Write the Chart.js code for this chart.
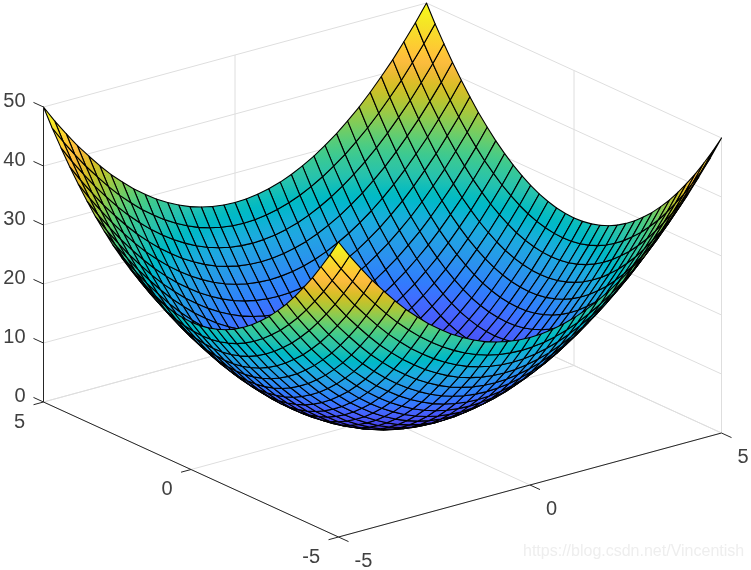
<!DOCTYPE html>
<html><head><meta charset="utf-8">
<style>html,body{margin:0;padding:0;background:#fff}canvas{display:block}</style>
<script src="https://cdn.jsdelivr.net/npm/chart.js@4"></script>
</head><body><canvas id="c" width="751" height="570"></canvas>
<script>
// Grid coordinates read from the surface (35 lines per axis)
const xValues = [-5,-4.71,-4.41,-4.12,-3.82,-3.53,-3.24,-2.94,-2.65,-2.35,-2.06,-1.76,-1.47,-1.18,-0.88,-0.59,-0.29,0,0.29,0.59,0.88,1.18,1.47,1.76,2.06,2.35,2.65,2.94,3.24,3.53,3.82,4.12,4.41,4.71,5];
const yValues = [-5,-4.71,-4.41,-4.12,-3.82,-3.53,-3.24,-2.94,-2.65,-2.35,-2.06,-1.76,-1.47,-1.18,-0.88,-0.59,-0.29,0,0.29,0.59,0.88,1.18,1.47,1.76,2.06,2.35,2.65,2.94,3.24,3.53,3.82,4.12,4.41,4.71,5];
// Surface heights for one quadrant, centre outwards; the bowl is mirrored about x=0 and y=0
const zQuadrant = [
[0,.09,.35,.78,1.38,2.16,3.11,4.24,5.54,7.01,8.65,10.47,12.46,14.62,16.96,19.46,22.15,25],
[.09,.18,.44,.87,1.47,2.25,3.2,4.33,5.63,7.1,8.74,10.56,12.55,14.71,17.05,19.55,22.24,25.09],
[.35,.44,.7,1.13,1.73,2.51,3.46,4.59,5.89,7.36,9,10.82,12.81,14.97,17.31,19.81,22.5,25.35],
[.78,.87,1.13,1.56,2.16,2.94,3.89,5.02,6.32,7.79,9.43,11.25,13.24,15.4,17.74,20.24,22.93,25.78],
[1.38,1.47,1.73,2.16,2.76,3.54,4.49,5.62,6.92,8.39,10.03,11.85,13.84,16,18.34,20.84,23.53,26.38],
[2.16,2.25,2.51,2.94,3.54,4.32,5.27,6.4,7.7,9.17,10.81,12.63,14.62,16.78,19.12,21.62,24.31,27.16],
[3.11,3.2,3.46,3.89,4.49,5.27,6.22,7.35,8.65,10.12,11.76,13.58,15.57,17.73,20.07,22.57,25.26,28.11],
[4.24,4.33,4.59,5.02,5.62,6.4,7.35,8.48,9.78,11.25,12.89,14.71,16.7,18.86,21.2,23.7,26.39,29.24],
[5.54,5.63,5.89,6.32,6.92,7.7,8.65,9.78,11.08,12.55,14.19,16.01,18,20.16,22.5,25,27.69,30.54],
[7.01,7.1,7.36,7.79,8.39,9.17,10.12,11.25,12.55,14.02,15.66,17.48,19.47,21.63,23.97,26.47,29.16,32.01],
[8.65,8.74,9,9.43,10.03,10.81,11.76,12.89,14.19,15.66,17.3,19.12,21.11,23.27,25.61,28.11,30.8,33.65],
[10.47,10.56,10.82,11.25,11.85,12.63,13.58,14.71,16.01,17.48,19.12,20.94,22.93,25.09,27.43,29.93,32.62,35.47],
[12.46,12.55,12.81,13.24,13.84,14.62,15.57,16.7,18,19.47,21.11,22.93,24.92,27.08,29.42,31.92,34.61,37.46],
[14.62,14.71,14.97,15.4,16,16.78,17.73,18.86,20.16,21.63,23.27,25.09,27.08,29.24,31.58,34.08,36.77,39.62],
[16.96,17.05,17.31,17.74,18.34,19.12,20.07,21.2,22.5,23.97,25.61,27.43,29.42,31.58,33.92,36.42,39.11,41.96],
[19.46,19.55,19.81,20.24,20.84,21.62,22.57,23.7,25,26.47,28.11,29.93,31.92,34.08,36.42,38.92,41.61,44.46],
[22.15,22.24,22.5,22.93,23.53,24.31,25.26,26.39,27.69,29.16,30.8,32.62,34.61,36.77,39.11,41.61,44.3,47.15],
[25,25.09,25.35,25.78,26.38,27.16,28.11,29.24,30.54,32.01,33.65,35.47,37.46,39.62,41.96,44.46,47.15,50]
];
const xTicks = [-5,0,5];
const yTicks = [-5,0,5];
const zTicks = [0,10,20,30,40,50];
const xTickLabels = ['-5','0','5'];
const yTickLabels = ['-5','0','5'];
const zTickLabels = ['0','10','20','30','40','50'];
const watermark = 'https://blog.csdn.net/Vincentish';
const colormap = [[.2422,.1504,.6603],[.2504,.165,.7076],[.2578,.1818,.7511],[.2647,.1978,.7952],[.2706,.2147,.8364],[.2751,.2342,.871],[.2783,.2559,.8991],[.2803,.2782,.9221],[.2813,.3006,.9414],[.281,.3228,.9579],[.2795,.3447,.9717],[.276,.3667,.9829],[.2699,.3892,.9906],[.2602,.4123,.9952],[.244,.4358,.9988],[.2206,.4603,.9973],[.1963,.4847,.9892],[.1834,.5074,.9798],[.1786,.5289,.9682],[.1764,.5499,.952],[.1687,.5703,.9359],[.154,.5902,.9218],[.146,.6091,.9079],[.138,.6276,.8973],[.1248,.6459,.8883],[.1113,.6635,.8763],[.0952,.6798,.8598],[.0689,.6948,.8394],[.0297,.7082,.8163],[.0036,.7203,.7917],[.0067,.7312,.766],[.0433,.7411,.7394],[.0964,.75,.712],[.1408,.7584,.6842],[.1717,.767,.6554],[.1938,.7758,.6251],[.2161,.7843,.5923],[.247,.7918,.5567],[.2906,.7973,.5188],[.3406,.8008,.4789],[.3909,.8029,.4354],[.4456,.8024,.3909],[.5044,.7993,.348],[.5616,.7942,.3045],[.6174,.7876,.2612],[.672,.7793,.2227],[.7242,.7698,.191],[.7738,.7598,.1646],[.8203,.7498,.1535],[.8634,.7406,.1596],[.9035,.733,.1774],[.9393,.7288,.21],[.9728,.7298,.2394],[.9956,.7434,.2371],[.997,.7659,.2199],[.9952,.7861,.1967],[.9892,.8136,.1885],[.9786,.8386,.1766],[.9676,.8639,.1643],[.961,.889,.1537],[.9597,.9135,.1423],[.9628,.9373,.1265],[.9691,.9606,.1064],[.9769,.9839,.0805]];

const EDGE = '#000000', GRID = '#dedede', AXIS = '#262626';
const zMax = 50;
// Orthographic view of the axes box, az -37.5 el 30, fitted to the reference
function project(x, y, z) {
  return { x: 338.5 + (x + 5) * 38.3 - (y + 5) * 29.5,
           y: 537 - (x + 5) * 10.4 - (y + 5) * 13.5 - z * 5.9 };
}
const zAt = (i, j) => zQuadrant[Math.abs(i - 17)][Math.abs(j - 17)];
function colorOf(t) {
  t = Math.min(1, Math.max(0, t)) * (colormap.length - 1);
  const a = Math.floor(t), b = Math.min(colormap.length - 1, a + 1), f = t - a;
  const c = colormap[a].map((v, k) => Math.round((v + (colormap[b][k] - v) * f) * 255));
  return `rgb(${c[0]},${c[1]},${c[2]})`;
}
const cv = document.getElementById('c');
function quadFill(ctx2d, P, T) {
  const e1x = (P[1].x + P[2].x - P[0].x - P[3].x) / 2, e1y = (P[1].y + P[2].y - P[0].y - P[3].y) / 2;
  const e2x = (P[2].x + P[3].x - P[0].x - P[1].x) / 2, e2y = (P[2].y + P[3].y - P[0].y - P[1].y) / 2;
  const d1 = (T[1] + T[2] - T[0] - T[3]) / 2, d2 = (T[2] + T[3] - T[0] - T[1]) / 2;
  const det = e1x * e2y - e1y * e2x;
  const tMin = Math.min(...T), tMax = Math.max(...T), tc = (T[0] + T[1] + T[2] + T[3]) / 4;
  if (Math.abs(det) < 1e-3) return colorOf(tc);
  const gx = (d1 * e2y - d2 * e1y) / det, gy = (e1x * d2 - e2x * d1) / det;
  const g2 = gx * gx + gy * gy;
  if (g2 < 1e-10) return colorOf(tc);
  const cx = (P[0].x + P[1].x + P[2].x + P[3].x) / 4, cy = (P[0].y + P[1].y + P[2].y + P[3].y) / 4;
  const k0 = (tMin - tc) / g2, k1 = (tMax - tc) / g2;
  const gr = ctx2d.createLinearGradient(cx + gx * k0, cy + gy * k0, cx + gx * k1, cy + gy * k1);
  for (let s = 0; s <= 4; s++) gr.addColorStop(s / 4, colorOf(tMin + (tMax - tMin) * s / 4));
  return gr;
}
const ctx = cv.getContext('2d');
const quads = [];
for (let i = 0; i < xValues.length - 1; i++) for (let j = 0; j < yValues.length - 1; j++) {
  const idx = [[i, j], [i + 1, j], [i + 1, j + 1], [i, j + 1]];
  const V = idx.map(([a, b]) => [xValues[a], yValues[b], zAt(a, b)]);
  const depth = V.reduce((s, v) => s - 1.74 * v[0] - 2.26 * v[1] + 0.33 * v[2], 0);
  quads.push({ V, depth });
}
quads.sort((a, b) => b.depth - a.depth); // nearest first: Chart.js paints first dataset last
const datasets = [];
const line3d = (pts, color, width) => datasets.push({ data: pts.map(p => project(...p)), showLine: true, fill: false, borderColor: color, borderWidth: width, pointRadius: 0, tension: 0, clip: false });
// axes and ticks on top
line3d([[-5, 5, 0], [-5, 5, zMax]], AXIS, 1);
line3d([[-5, 5, 0], [-5, -5, 0]], AXIS, 1);
line3d([[-5, -5, 0], [5, -5, 0]], AXIS, 1);
const tickLen = 0.34;
zTicks.forEach(z => line3d([[-5, 5, z], [-5, 5 + tickLen, z]], AXIS, 1));
yTicks.forEach(y => line3d([[-5, y, 0], [-5 - 0.26, y, 0]], AXIS, 1));
xTicks.forEach(x => line3d([[x, -5, 0], [x, -5 - tickLen, 0]], AXIS, 1));
// surface
quads.forEach(q => {
  const P = q.V.map(v => project(...v));
  const T = q.V.map(v => v[2] / zMax);
  datasets.push({ data: [...P, P[0]], showLine: true, fill: 'shape', backgroundColor: quadFill(ctx, P, T), borderColor: EDGE, borderWidth: 1.1, borderJoinStyle: 'round', pointRadius: 0, tension: 0, clip: false });
});
// back walls and floor grid
zTicks.forEach(z => { line3d([[-5, 5, z], [5, 5, z], [5, -5, z]], GRID, 1); });
xTicks.forEach(x => { line3d([[x, -5, 0], [x, 5, 0], [x, 5, zMax]], GRID, 1); });
yTicks.forEach(y => { line3d([[-5, y, 0], [5, y, 0], [5, y, zMax]], GRID, 1); });

const labelPlugin = { id: 'labels', afterDraw(ch) {
  const c = ch.ctx, sx = ch.scales.x, sy = ch.scales.y;
  c.save();
  c.font = '20px "Liberation Sans", Arial, sans-serif';
  c.fillStyle = '#404040'; c.textBaseline = 'middle';
  const put = (p, dx, dy, s, al) => { c.textAlign = al; c.fillText(s, sx.getPixelForValue(p.x) + dx, sy.getPixelForValue(p.y) + dy + 1); };
  zTicks.forEach((z, k) => put(project(-5, 5, z), -18, -7, zTickLabels[k], 'right'));
  yTicks.forEach((y, k) => put(project(-5, y, 0), -18.5, 19, yTickLabels[k], 'right'));
  xTicks.forEach((x, k) => put(project(x, -5, 0), 16, 23, xTickLabels[k], 'left'));
  c.font = '16px "Liberation Sans", Arial, sans-serif';
  c.fillStyle = '#eeeeee'; c.textAlign = 'left';
  c.fillText(watermark, 523, 552);
  c.restore();
}};
new Chart(ctx, {
  type: 'scatter',
  data: { datasets },
  plugins: [labelPlugin],
  options: {
    responsive: false, animation: false, events: [],
    layout: { padding: 0 },
    plugins: { legend: { display: false }, tooltip: { enabled: false }, title: { display: false } },
    scales: {
      x: { type: 'linear', display: false, min: 0, max: 751 },
      y: { type: 'linear', display: false, min: 0, max: 570, reverse: true }
    }
  }
});
</script></body></html>
